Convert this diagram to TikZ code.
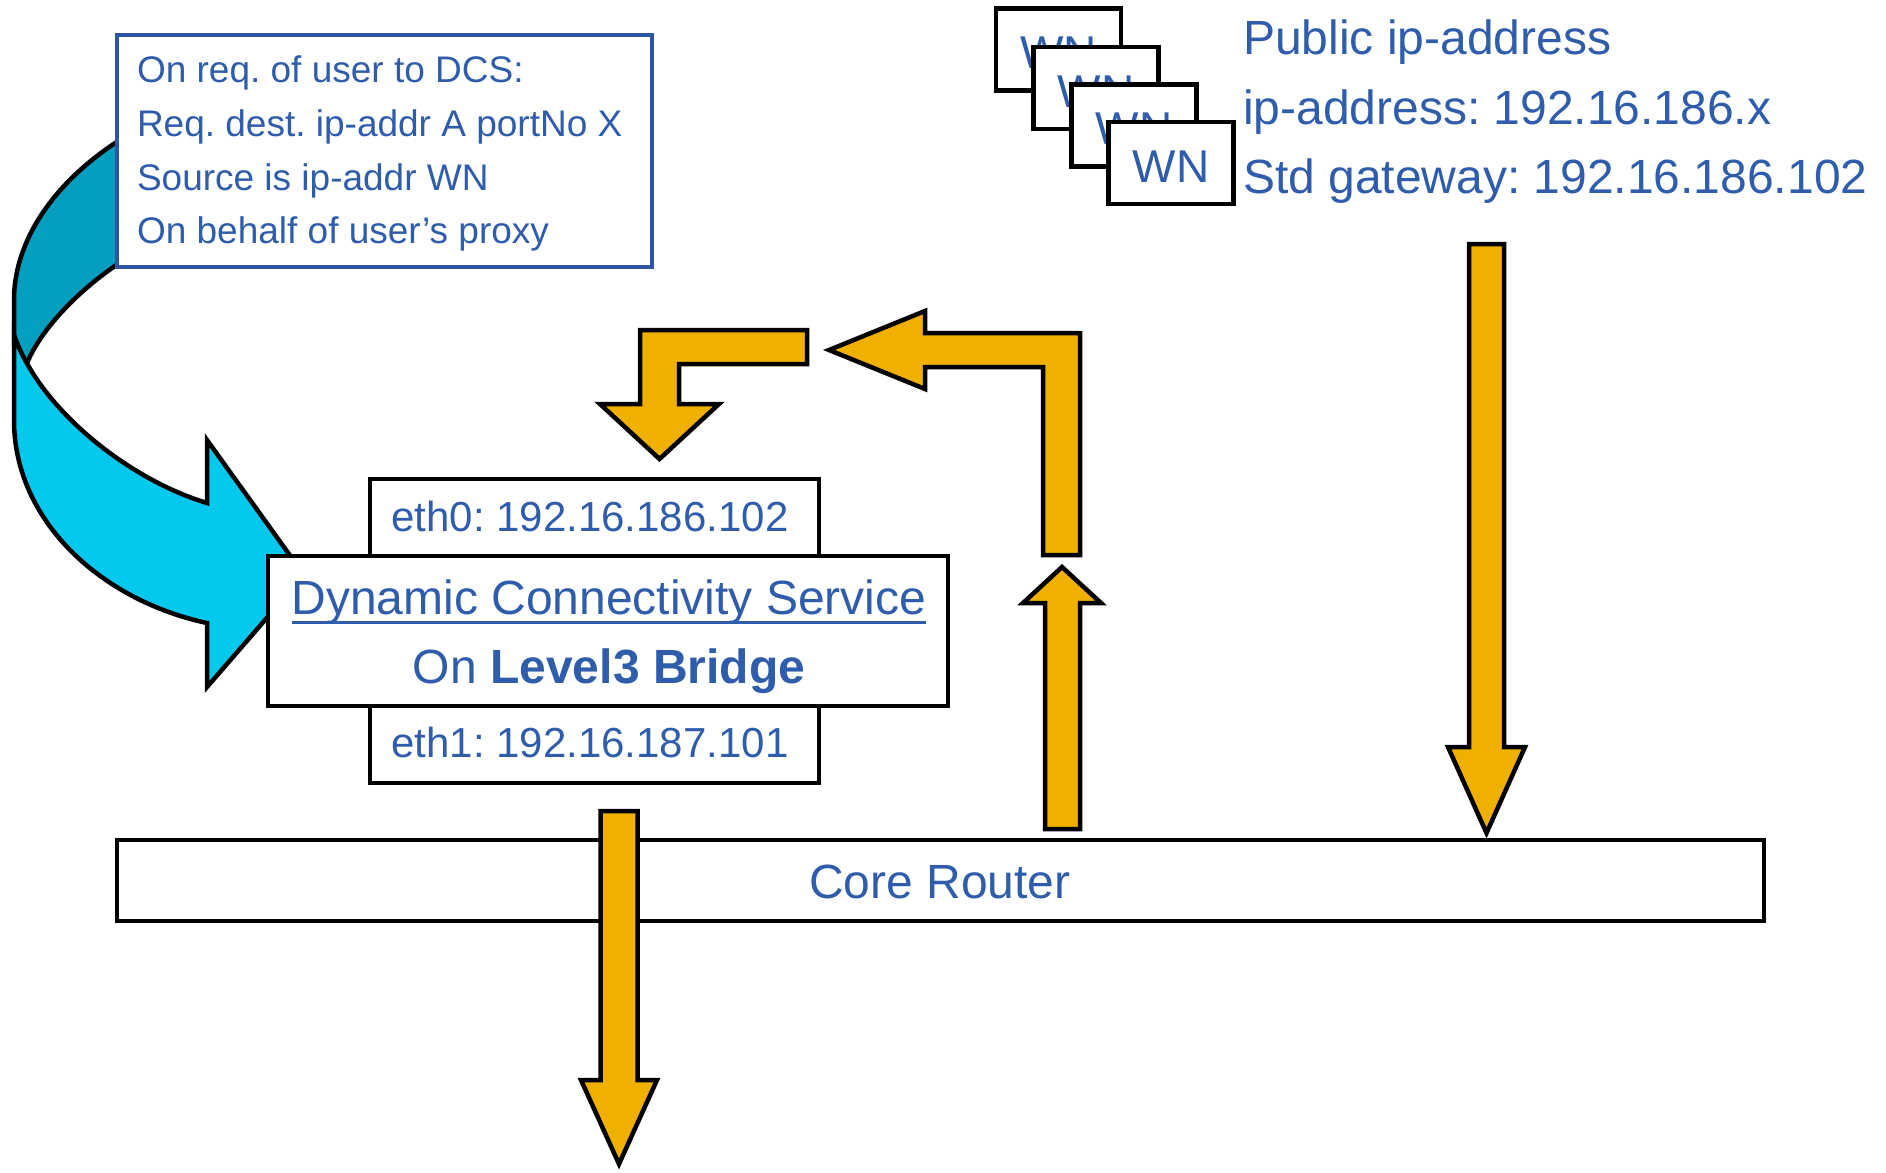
\documentclass[tikz,border=0pt]{standalone}
\usepackage{fontspec}
\setmainfont{Liberation Sans}
\frenchspacing
\definecolor{txtblue}{RGB}{47,93,172}
\definecolor{noteblue}{RGB}{47,85,160}
\definecolor{gold}{RGB}{240,176,0}
\definecolor{cyanlight}{RGB}{4,200,238}
\definecolor{cyandark}{RGB}{4,158,190}

\begin{document}
\begin{tikzpicture}[x=1pt,y=-1pt,
  frame/.style={draw=black, line width=4.5pt, fill=white, inner sep=0pt, outer sep=0pt},
  flow/.style={draw=black, line width=4.5pt, fill=gold, line join=miter, miter limit=10},
  ribbon/.style={draw=black, line width=4.5pt, line join=round},
  txt/.style={text=txtblue, inner sep=0pt, outer sep=0pt},
  fnote/.style={txt, font=\fontsize{37}{44}\selectfont},
  fbig/.style={txt, font=\fontsize{48}{56}\selectfont},
  feth/.style={txt, font=\fontsize{42}{50}\selectfont},
  fwn/.style={txt, font=\fontsize{46}{54}\selectfont},
]
\useasboundingbox (0,0) rectangle (1886,1172);

% curved request arrow: back face first, then front face with head
\path[ribbon, fill=cyandark]
  (160,118) .. controls (70,160) and (14,230) .. (14,300)
  -- (14,345) -- (27,363)
  .. controls (45,320) and (100,268) .. (160,240) -- cycle;
\path[ribbon, fill=cyanlight, line join=miter]
  (14,335) -- (14,420) .. controls (14,520) and (100,600) .. (207,623)
  -- (207,687) -- (304,575) -- (207,440) -- (207,503)
  .. controls (130,480) and (40,410) .. (14,335) -- cycle;

% request note
\node[frame, draw=noteblue, line width=4pt, minimum width=535pt, minimum height=232pt] (note) at (384.5,151) {};
\node[fnote, anchor=base west] (n1) at (137,82) {On req. of user to DCS:};
\node[fnote, anchor=base west] (n2) at (137,136) {Req. dest. ip-addr A portNo X};
\node[fnote, anchor=base west] (n3) at (137,190) {Source is ip-addr WN};
\node[fnote, anchor=base west] (n4) at (137,243) {On behalf of user’s proxy};

% bridge with its two interfaces
\node[frame, minimum width=449pt, minimum height=77pt] (eth0) at (594.5,517.5) {};
\node[frame, minimum width=449pt, minimum height=77pt] (eth1) at (594.5,744.5) {};
\node[frame, minimum width=680pt, minimum height=150pt] (dcs) at (608,631) {};
\node[feth, anchor=base] (eth0t) at (590,531) {eth0: 192.16.186.102};
\node[feth, anchor=base] (eth1t) at (590,757) {eth1: 192.16.187.101};
\node[fbig, anchor=base] (dcsA) at (609,614) {Dynamic Connectivity Service};
\node[fbig, anchor=base] (dcsB) at (609,683) {On \textbf{Level3 Bridge}};
\draw[txtblue, line width=3pt] ([yshift=-8pt]dcsA.base west) -- ([yshift=-8pt]dcsA.base east);

% core router
\node[frame, minimum width=1647pt, minimum height=81pt] (router) at (940.5,880.5) {};
\node[fbig, anchor=base] (routert) at (940,898) {Core Router};

% traffic arrows
\path[flow] (600.5,811) -- (637.5,811) -- (637.5,1080) -- (657,1080) -- (619,1164)
  -- (581,1080) -- (600.5,1080) -- cycle;
\path[flow] (1045,829) -- (1045,603) -- (1023,603) -- (1062,567) -- (1101,603)
  -- (1080,603) -- (1080,829) -- cycle;
\path[flow] (1043,555) -- (1043,367) -- (925,367) -- (925,389) -- (829,350)
  -- (925,311) -- (925,333) -- (1080,333) -- (1080,555) -- cycle;
\path[flow] (807,330) -- (640,330) -- (640,404) -- (600,404) -- (659.5,459)
  -- (719,404) -- (679,404) -- (679,364) -- (807,364) -- cycle;
\path[flow] (1469,244) -- (1504,244) -- (1504,747) -- (1525,747) -- (1486.5,833)
  -- (1448,747) -- (1469,747) -- cycle;

% worker nodes
\node[frame, minimum width=125pt, minimum height=82pt] (wn1) at (1058.5,49.5) {};
\node[fwn, anchor=base] (wn1t) at (1058.5,68.5) {WN};
\node[frame, minimum width=125pt, minimum height=82pt] (wn2) at (1096,88) {};
\node[fwn, anchor=base] (wn2t) at (1096,107) {WN};
\node[frame, minimum width=125pt, minimum height=82pt] (wn3) at (1134,125.5) {};
\node[fwn, anchor=base] (wn3t) at (1134,144.5) {WN};
\node[frame, minimum width=125pt, minimum height=82pt] (wn4) at (1171,163) {};
\node[fwn, anchor=base] (wn4t) at (1171,182) {WN};

% worker node addressing
\node[fbig, anchor=base west] (pub) at (1243,55) {Public ip-address};
\node[fbig, anchor=base west] (ipa) at (1243,124) {ip-address: 192.16.186.x};
\node[fbig, anchor=base west] (gw) at (1243,193) {Std gateway: 192.16.186.102};
\end{tikzpicture}
\end{document}
